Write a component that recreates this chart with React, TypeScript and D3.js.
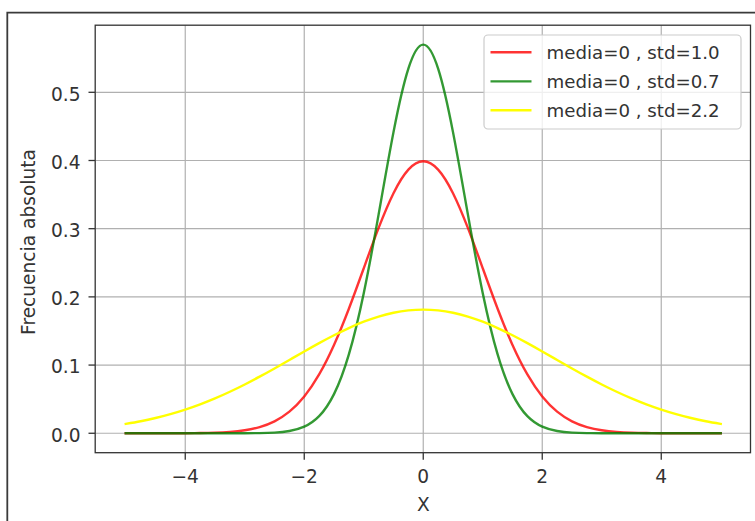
import React from "react";
import * as d3 from "d3";

const xs = [
  -5, -4.75, -4.5, -4.25, -4, -3.75, -3.5, -3.25, -3, -2.75, -2.5, -2.25, -2, -1.75, -1.5, -1.25, -1, -0.75, -0.5, -0.25,
  0, 0.25, 0.5, 0.75, 1, 1.25, 1.5, 1.75, 2, 2.25, 2.5, 2.75, 3, 3.25, 3.5, 3.75, 4, 4.25, 4.5, 4.75, 5,
];

const std10 = [
  0.0, 0.00001, 0.00002, 0.00005, 0.00013, 0.00035, 0.00087, 0.00203, 0.00443, 0.00909, 0.01753, 0.03174, 0.05399,
  0.08628, 0.12952, 0.18265, 0.24197, 0.30114, 0.35207, 0.38667, 0.39894, 0.38667, 0.35207, 0.30114, 0.24197, 0.18265,
  0.12952, 0.08628, 0.05399, 0.03174, 0.01753, 0.00909, 0.00443, 0.00203, 0.00087, 0.00035, 0.00013, 0.00005, 0.00002,
  0.00001, 0.0,
];

const std07 = [
  0, 0, 0, 0, 0, 0, 0, 0.00001, 0.00006, 0.00025, 0.00097, 0.00325, 0.00962, 0.02504, 0.05737, 0.1157, 0.20542,
  0.32102, 0.44158, 0.53469, 0.56991, 0.53469, 0.44158, 0.32102, 0.20542, 0.1157, 0.05737, 0.02504, 0.00962, 0.00325,
  0.00097, 0.00025, 0.00006, 0.00001, 0, 0, 0, 0, 0, 0, 0,
];

const std22 = [
  0.0137, 0.01763, 0.02239, 0.02806, 0.03472, 0.04242, 0.05115, 0.0609, 0.07156, 0.08302, 0.09508, 0.10749, 0.11996,
  0.13216, 0.14373, 0.15431, 0.16354, 0.1711, 0.17672, 0.18017, 0.18134, 0.18017, 0.17672, 0.1711, 0.16354, 0.15431,
  0.14373, 0.13216, 0.11996, 0.10749, 0.09508, 0.08302, 0.07156, 0.0609, 0.05115, 0.04242, 0.03472, 0.02806, 0.02239,
  0.01763, 0.0137,
];

const seriesLabels = ["media=0 , std=1.0", "media=0 , std=0.7", "media=0 , std=2.2"];
const seriesColors = ["#ff0000", "#008000", "#ffff00"];
const seriesAlpha = [0.8, 0.8, 1];
const seriesValues = [std10, std07, std22];

const xTicks = [-4, -2, 0, 2, 4];
const yTicks = [0.0, 0.1, 0.2, 0.3, 0.4, 0.5];
const xLabel = "X";
const yLabel = "Frecuencia absoluta";

const W = 755;
const H = 521;
const FONT = "'DejaVu Sans', sans-serif";
const FS = 18.6;
const LEG_FS = 18.2;

export default function App() {
  const x = d3.scaleLinear().domain([-5.5, 5.5]).range([96, 750.5]);
  const y = d3.scaleLinear().domain([-0.0285, 0.5984]).range([452.7, 25.2]);
  const [x0, x1] = x.range();
  const [y0, y1] = y.range();

  const line = d3
    .line<number>()
    .x((_, i) => x(xs[i]))
    .y((d) => y(d))
    .curve(d3.curveNatural);

  const fmtMinus = (v: number) => (v < 0 ? "\u2212" + Math.abs(v) : String(v));

  const legX = 484;
  const legY = 35;
  const legW = 257;
  const legH = 94;
  const rowY = [52.3, 81.4, 110.3];

  return (
    <svg
      width={W}
      height={H}
      style={{ position: "absolute", left: 0, top: 0, background: "#fff" }}
      fontFamily={FONT}
    >
      <rect x={0} y={0} width={W} height={H} fill="#fff" />
      {/* outer frame */}
      <path d={`M7.3,${H} L7.3,12.7 L${W},12.7`} fill="none" stroke="#3a3a3a" strokeWidth={1.8} />

      {/* grid */}
      {xTicks.map((t) => (
        <line key={"gx" + t} x1={x(t)} x2={x(t)} y1={y1} y2={y0} stroke="#b0b0b0" strokeWidth={1.2} />
      ))}
      {yTicks.map((t) => (
        <line key={"gy" + t} x1={x0} x2={x1} y1={y(t)} y2={y(t)} stroke="#b0b0b0" strokeWidth={1.2} />
      ))}

      {/* series */}
      {seriesValues.map((vals, i) => (
        <path
          key={"s" + i}
          d={line(vals) || ""}
          fill="none"
          stroke={seriesColors[i]}
          strokeOpacity={seriesAlpha[i]}
          strokeWidth={2.4}
          strokeLinecap="square"
        />
      ))}

      {/* spines */}
      <rect x={x0 - 0.8} y={y1} width={x1 - x0 + 0.8} height={y0 - y1} fill="none" stroke="#333" strokeWidth={1.3} />

      {/* x ticks */}
      {xTicks.map((t) => (
        <g key={"tx" + t}>
          <line x1={x(t)} x2={x(t)} y1={y0} y2={y0 + 7} stroke="#333" strokeWidth={1.3} />
          <text x={x(t)} y={483.3} textAnchor="middle" fontSize={FS} fill="#333">
            {fmtMinus(t)}
          </text>
        </g>
      ))}

      {/* y ticks */}
      {yTicks.map((t) => (
        <g key={"ty" + t}>
          <line x1={x0 - 7.5} x2={x0 - 0.8} y1={y(t)} y2={y(t)} stroke="#333" strokeWidth={1.3} />
          <text x={80.6} y={y(t) + 8.4} textAnchor="end" fontSize={FS} fill="#333">
            {t.toFixed(1)}
          </text>
        </g>
      ))}

      {/* axis labels */}
      <text x={(x0 + x1) / 2} y={510.7} textAnchor="middle" fontSize={FS} fill="#333">
        {xLabel}
      </text>
      <text
        transform={`translate(35,242) rotate(-90)`}
        textAnchor="middle"
        fontSize={FS}
        fill="#333"
      >
        {yLabel}
      </text>

      {/* legend */}
      <rect
        x={legX}
        y={legY}
        width={legW}
        height={legH}
        rx={4}
        fill="#fff"
        fillOpacity={0.8}
        stroke="#cccccc"
        strokeWidth={1.2}
      />
      {seriesLabels.map((lab, i) => (
        <g key={"l" + i}>
          <line
            x1={490.5}
            x2={531.5}
            y1={rowY[i]}
            y2={rowY[i]}
            stroke={seriesColors[i]}
            strokeOpacity={seriesAlpha[i]}
            strokeWidth={2.4}
          />
          <text x={546.5} y={rowY[i] + 6.6} fontSize={LEG_FS} fill="#333">
            {lab}
          </text>
        </g>
      ))}
    </svg>
  );
}
